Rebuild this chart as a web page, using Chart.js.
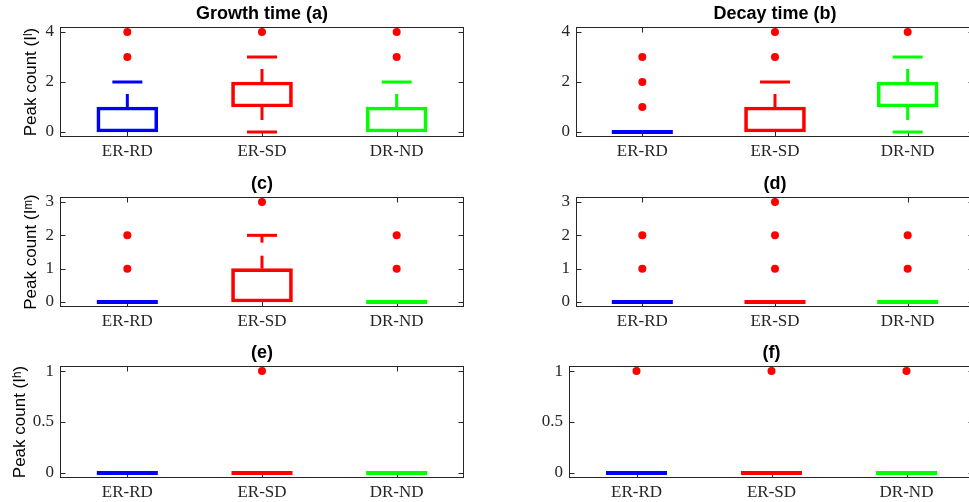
<!DOCTYPE html>
<html>
<head>
<meta charset="utf-8">
<title>Peak count box plots</title>
<script src="https://cdn.jsdelivr.net/npm/chart.js@4.4.1/dist/chart.umd.min.js"></script>
<style>
  html, body { margin: 0; padding: 0; background: #fff; overflow: hidden; }
  #wrap { position: relative; width: 969px; height: 502px; overflow: hidden; }
  #wrap canvas { position: absolute; }
</style>
</head>
<body>
<div id="wrap">
  <canvas id="pa" width="480" height="165" style="left:0;top:0"></canvas>
  <canvas id="pb" width="500" height="165" style="left:480px;top:0"></canvas>
  <canvas id="pc" width="480" height="165" style="left:0;top:170px"></canvas>
  <canvas id="pd" width="500" height="165" style="left:480px;top:170px"></canvas>
  <canvas id="pe" width="480" height="167" style="left:0;top:339px"></canvas>
  <canvas id="pf" width="500" height="167" style="left:480px;top:339px"></canvas>
</div>
<script>
const categories = ['ER-RD', 'ER-SD', 'DR-ND'];
const boxColors = ['#0000ff', '#ff0000', '#00ff00'];
const outlierColor = '#ff0000';

// (a) growth time, I^l
const aQ1 = [0, 1, 0];
const aMedian = [0, 1, 0];
const aQ3 = [1, 2, 1];
const aLow = [0, 0, 0];
const aHigh = [2, 3, 2];
const aOutliers = [[3, 4], [4], [3, 4]];

// (b) decay time, I^l
const bQ1 = [0, 0, 1];
const bMedian = [0, 0, 1];
const bQ3 = [0, 1, 2];
const bLow = [0, 0, 0];
const bHigh = [0, 2, 3];
const bOutliers = [[1, 2, 3], [3, 4], [4]];

// (c) growth time, I^m
const cQ1 = [0, 0, 0];
const cMedian = [0, 0, 0];
const cQ3 = [0, 1, 0];
const cLow = [0, 0, 0];
const cHigh = [0, 2, 0];
const cOutliers = [[1, 2], [3], [1, 2]];

// (d) decay time, I^m
const dQ1 = [0, 0, 0];
const dMedian = [0, 0, 0];
const dQ3 = [0, 0, 0];
const dLow = [0, 0, 0];
const dHigh = [0, 0, 0];
const dOutliers = [[1, 2], [1, 2, 3], [1, 2]];

// (e) growth time, I^h
const eQ1 = [0, 0, 0];
const eMedian = [0, 0, 0];
const eQ3 = [0, 0, 0];
const eLow = [0, 0, 0];
const eHigh = [0, 0, 0];
const eOutliers = [[], [1], []];

// (f) decay time, I^h
const fQ1 = [0, 0, 0];
const fMedian = [0, 0, 0];
const fQ3 = [0, 0, 0];
const fLow = [0, 0, 0];
const fHigh = [0, 0, 0];
const fOutliers = [[1], [1], [1]];

const ticksTop = [0, 2, 4];
const ticksMid = [0, 1, 2, 3];
const ticksBottom = [0, 0.5, 1];

const SANS = "'Liberation Sans', Arial, sans-serif";
const SERIF = "'Liberation Serif', 'Times New Roman', serif";
const AXIS_COLOR = '#262626';

const panels = [
  { id: 'pa', title: 'Growth time (a)', yTitle: 'Peak count (Iˡ)', q1: aQ1, med: aMedian, q3: aQ3, lo: aLow, hi: aHigh, out: aOutliers,
    ticks: ticksTop, min: -0.2, max: 4.2, axisW: 60, padR: 16, titlePad: 20.8 },
  { id: 'pb', title: 'Decay time (b)', yTitle: '', q1: bQ1, med: bMedian, q3: bQ3, lo: bLow, hi: bHigh, out: bOutliers,
    ticks: ticksTop, min: -0.2, max: 4.2, axisW: 96, padR: 6, titlePad: 0 },
  { id: 'pc', title: '(c)', yTitle: 'Peak count (Iᵐ)', q1: cQ1, med: cMedian, q3: cQ3, lo: cLow, hi: cHigh, out: cOutliers,
    ticks: ticksMid, min: -0.15, max: 3.15, axisW: 60, padR: 16, titlePad: 20.8 },
  { id: 'pd', title: '(d)', yTitle: '', q1: dQ1, med: dMedian, q3: dQ3, lo: dLow, hi: dHigh, out: dOutliers,
    ticks: ticksMid, min: -0.15, max: 3.15, axisW: 96, padR: 6, titlePad: 0 },
  { id: 'pe', title: '(e)', yTitle: 'Peak count (Iʰ)', q1: eQ1, med: eMedian, q3: eQ3, lo: eLow, hi: eHigh, out: eOutliers,
    ticks: ticksBottom, min: -0.05, max: 1.05, axisW: 60, padR: 16, titlePad: 10 },
  { id: 'pf', title: '(f)', yTitle: '', q1: fQ1, med: fMedian, q3: fQ3, lo: fLow, hi: fHigh, out: fOutliers,
    ticks: ticksBottom, min: -0.05, max: 1.05, axisW: 89, padR: 6, titlePad: 0 }
];

// axes box with inward ticks, drawn under the data
const framePlugin = {
  id: 'frame',
  beforeDatasetsDraw(chart) {
    const { ctx, chartArea: a, scales: { x, y } } = chart;
    const L = Math.round(a.left) + 0.5, R = Math.round(a.right) - 0.5;
    const T = Math.round(a.top) + 0.5, B = Math.round(a.bottom) - 0.5;
    ctx.save();
    ctx.strokeStyle = AXIS_COLOR;
    ctx.lineWidth = 1;
    ctx.strokeRect(L, T, R - L, B - T);
    ctx.beginPath();
    y.ticks.forEach(t => {
      const py = Math.round(y.getPixelForValue(t.value)) + 0.5;
      ctx.moveTo(L, py); ctx.lineTo(L + 5, py);
      ctx.moveTo(R, py); ctx.lineTo(R - 5, py);
    });
    x.ticks.forEach((t, i) => {
      const px = Math.round(x.getPixelForValue(i)) + 0.5;
      ctx.moveTo(px, B); ctx.lineTo(px, B - 5);
      ctx.moveTo(px, T); ctx.lineTo(px, T + 5);
    });
    ctx.stroke();
    ctx.restore();
  }
};

// whiskers, caps and medians of each box
const whiskerPlugin = {
  id: 'whiskers',
  afterDatasetsDraw(chart, args, opts) {
    const p = opts.panel;
    if (!p) return;
    const { ctx, scales: { x, y } } = chart;
    ctx.save();
    ctx.lineCap = 'butt';
    const seg = (x1, y1, x2, y2) => { ctx.beginPath(); ctx.moveTo(x1, y1); ctx.lineTo(x2, y2); ctx.stroke(); };
    categories.forEach((c, i) => {
      const cx = x.getPixelForValue(i);
      ctx.strokeStyle = boxColors[i];
      ctx.lineWidth = 3;
      ctx.setLineDash([13, 13]);
      if (p.hi[i] > p.q3[i]) seg(cx, y.getPixelForValue(p.q3[i]), cx, y.getPixelForValue(p.hi[i]));
      if (p.lo[i] < p.q1[i]) seg(cx, y.getPixelForValue(p.q1[i]), cx, y.getPixelForValue(p.lo[i]));
      ctx.setLineDash([]);
      if (p.hi[i] > p.q3[i]) seg(cx - 15, y.getPixelForValue(p.hi[i]), cx + 15, y.getPixelForValue(p.hi[i]));
      if (p.lo[i] < p.q1[i]) seg(cx - 15, y.getPixelForValue(p.lo[i]), cx + 15, y.getPixelForValue(p.lo[i]));
      // median only shows on its own when the box is flat or it sits inside
      const flat = p.q1[i] === p.q3[i];
      if (flat || (p.med[i] > p.q1[i] && p.med[i] < p.q3[i])) {
        ctx.lineWidth = flat ? 4 : 3;
        const my = y.getPixelForValue(p.med[i]);
        seg(cx - 30.5, my, cx + 30.5, my);
      }
    });
    ctx.restore();
  }
};

panels.forEach(p => {
  const outlierPoints = [];
  p.out.forEach((vals, i) => vals.forEach(v => outlierPoints.push({ x: categories[i], y: v })));

  new Chart(document.getElementById(p.id), {
    type: 'bar',
    data: {
      labels: categories,
      datasets: [
        {
          type: 'bar',
          data: p.q1.map((v, i) => [v, p.q3[i]]),
          backgroundColor: 'rgba(0,0,0,0)',
          borderColor: boxColors,
          borderWidth: 3,
          borderSkipped: false,
          barThickness: 61
        },
        {
          type: 'line',
          data: outlierPoints,
          showLine: false,
          pointRadius: 4,
          pointBorderWidth: 0,
          pointBackgroundColor: outlierColor,
          pointBorderColor: outlierColor
        }
      ]
    },
    options: {
      animation: false,
      responsive: false,
      devicePixelRatio: 1,
      layout: { padding: { left: 0, right: p.padR, top: 0, bottom: 0 } },
      plugins: {
        legend: { display: false },
        tooltip: { enabled: false },
        title: {
          display: true,
          text: p.title,
          fullSize: false,
          color: '#000',
          font: { family: SANS, size: 18, weight: 'bold', lineHeight: 1.2 },
          padding: { top: 3.2, bottom: 2.2 }
        },
        whiskers: { panel: p }
      },
      scales: {
        x: {
          type: 'category',
          offset: true,
          grid: { display: false, drawTicks: false },
          border: { display: false },
          ticks: { color: AXIS_COLOR, padding: 4, maxRotation: 0, font: { family: SERIF, size: 17 } },
          afterFit: s => { s.height = 28; }
        },
        y: {
          type: 'linear',
          min: p.min,
          max: p.max,
          grid: { display: false, drawTicks: false },
          border: { display: false },
          ticks: {
            color: AXIS_COLOR,
            padding: 6,
            font: { family: SERIF, size: 17 },
            callback: v => String(v)
          },
          afterBuildTicks: s => { s.ticks = p.ticks.map(v => ({ value: v })); },
          afterFit: s => { s.width = p.axisW; },
          title: {
            display: !!p.yTitle,
            text: p.yTitle,
            color: '#000',
            font: { family: SANS, size: 17, lineHeight: 1.2 },
            padding: { top: p.titlePad, bottom: 0 }
          }
        }
      }
    },
    plugins: [framePlugin, whiskerPlugin]
  });
});
</script>
</body>
</html>
